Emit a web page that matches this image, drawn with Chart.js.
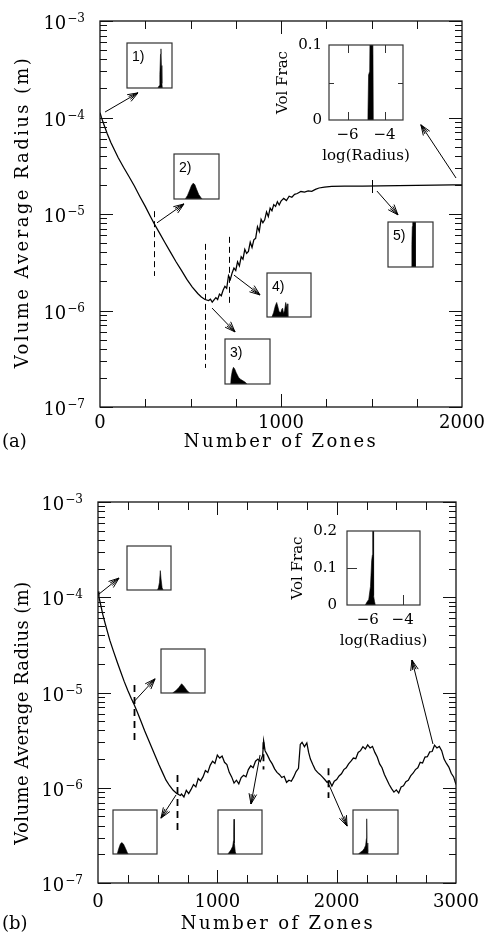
<!DOCTYPE html>
<html>
<head>
<meta charset="utf-8">
<script src="https://cdn.jsdelivr.net/npm/chart.js"></script>
<style>
  html, body { margin: 0; padding: 0; background: #fff; }
  #fig { position: relative; width: 489px; height: 938px; overflow: hidden; }
  #fig canvas { position: absolute; }
</style>
</head>
<body>
<div id="fig">
  <canvas id="mainA" width="489" height="470" style="left:0;top:0"></canvas>
  <canvas id="mainB" width="489" height="468" style="left:0;top:470px"></canvas>
</div>
<script>
// ---- panel (a): volume average radius vs number of zones
const zonesA = [0, 8, 20, 40, 60, 80, 100, 130, 160, 190, 220, 250, 280, 300, 330, 360, 390, 420, 450, 480,
  510, 540, 560, 580, 600, 610, 620, 630, 640, 650, 660, 670, 680, 690, 700, 710, 720, 730, 740, 750,
  760, 770, 780, 790, 800, 810, 820, 830, 840, 850, 860, 870, 880, 890, 900, 910, 920, 930, 940, 950,
  960, 970, 980, 990, 1000, 1015, 1030, 1045, 1060, 1075, 1090, 1110, 1130, 1150, 1170, 1190, 1210, 1240, 1280, 1350,
  1450, 1550, 1650, 1750, 1850, 1950, 2000];
const radiusA = [1.12e-4, 1.0e-4, 8.6e-5, 6.8e-5, 5.5e-5, 4.6e-5, 3.85e-5, 3.05e-5, 2.45e-5, 1.95e-5, 1.52e-5, 1.2e-5, 9.3e-6, 7.9e-6, 6.3e-6, 5.0e-6, 4.0e-6, 3.2e-6, 2.6e-6, 2.1e-6,
  1.75e-6, 1.5e-6, 1.38e-6, 1.3e-6, 1.27e-6, 1.31e-6, 1.22e-6, 1.29e-6, 1.36e-6, 1.3e-6, 1.48e-6, 1.42e-6, 1.62e-6, 1.78e-6, 1.7e-6, 2.3e-6, 2.1e-6, 2.45e-6, 2.75e-6, 2.6e-6,
  3.2e-6, 2.9e-6, 3.6e-6, 3.4e-6, 4.3e-6, 3.9e-6, 4.1e-6, 5.1e-6, 4.5e-6, 5.4e-6, 5.6e-6, 7.4e-6, 6.6e-6, 8.8e-6, 8.1e-6, 8.7e-6, 1.05e-5, 9.4e-6, 1.15e-5, 1.08e-5,
  1.25e-5, 1.2e-5, 1.34e-5, 1.24e-5, 1.36e-5, 1.45e-5, 1.38e-5, 1.53e-5, 1.49e-5, 1.6e-5, 1.63e-5, 1.71e-5, 1.69e-5, 1.74e-5, 1.72e-5, 1.8e-5, 1.86e-5, 1.9e-5, 1.93e-5, 1.94e-5,
  1.95e-5, 1.96e-5, 1.97e-5, 1.98e-5, 1.99e-5, 2.0e-5, 2.0e-5];

// ---- panel (b)
const zonesB = [0, 8, 20, 40, 60, 80, 100, 130, 160, 190, 220, 250, 280, 300, 330, 360, 390, 420, 450, 480,
  510, 540, 570, 600, 630, 660, 690, 700, 720, 740, 760, 780, 800, 820, 840, 860, 880, 900, 920, 940,
  960, 980, 1000, 1020, 1040, 1060, 1080, 1100, 1120, 1140, 1160, 1180, 1200, 1220, 1240, 1260, 1280, 1300, 1320, 1340,
  1360, 1380, 1388, 1400, 1420, 1440, 1460, 1480, 1500, 1520, 1540, 1560, 1580, 1600, 1620, 1640, 1660, 1680, 1695, 1710,
  1730, 1750, 1765, 1780, 1800, 1820, 1840, 1860, 1880, 1900, 1920, 1940, 1960, 1980, 2000, 2020, 2040, 2060, 2080, 2100,
  2120, 2140, 2160, 2180, 2200, 2220, 2240, 2260, 2280, 2300, 2320, 2340, 2360, 2380, 2400, 2420, 2440, 2460, 2480, 2500,
  2520, 2540, 2560, 2580, 2600, 2620, 2640, 2660, 2680, 2700, 2720, 2740, 2760, 2780, 2800, 2820, 2840, 2860, 2880, 2900,
  2920, 2940, 2960, 2980, 3000];
const radiusB = [1.15e-4, 1.0e-4, 8.6e-5, 6.6e-5, 5.3e-5, 4.3e-5, 3.5e-5, 2.7e-5, 2.1e-5, 1.65e-5, 1.3e-5, 1.05e-5, 8.6e-6, 7.6e-6, 6.2e-6, 5.0e-6, 4.0e-6, 3.25e-6, 2.65e-6, 2.15e-6,
  1.75e-6, 1.45e-6, 1.2e-6, 1.05e-6, 9.4e-7, 8.7e-7, 8.3e-7, 8.6e-7, 8.0e-7, 9.4e-7, 8.7e-7, 9.6e-7, 1.08e-6, 1.02e-6, 1.25e-6, 1.18e-6, 1.3e-6, 1.52e-6, 1.45e-6, 1.72e-6,
  1.9e-6, 1.8e-6, 2.2e-6, 2.05e-6, 2.15e-6, 1.85e-6, 1.75e-6, 1.45e-6, 1.3e-6, 1.12e-6, 1.2e-6, 1.1e-6, 1.28e-6, 1.35e-6, 1.3e-6, 1.55e-6, 1.7e-6, 1.62e-6, 1.9e-6, 2.0e-6,
  1.88e-6, 2.2e-6, 3.1e-6, 2.45e-6, 2.2e-6, 1.95e-6, 1.78e-6, 1.58e-6, 1.45e-6, 1.38e-6, 1.28e-6, 1.32e-6, 1.14e-6, 1.2e-6, 1.17e-6, 1.3e-6, 1.48e-6, 1.6e-6, 2.85e-6, 3.0e-6,
  2.7e-6, 2.95e-6, 2.35e-6, 2.0e-6, 1.75e-6, 1.55e-6, 1.45e-6, 1.38e-6, 1.3e-6, 1.22e-6, 1.14e-6, 1.18e-6, 1.04e-6, 1.17e-6, 1.22e-6, 1.33e-6, 1.4e-6, 1.55e-6, 1.62e-6, 1.78e-6,
  1.9e-6, 2.05e-6, 2.02e-6, 2.35e-6, 2.45e-6, 2.7e-6, 2.55e-6, 2.82e-6, 2.62e-6, 2.72e-6, 2.35e-6, 2.1e-6, 1.78e-6, 1.62e-6, 1.38e-6, 1.22e-6, 1.08e-6, 9.8e-7, 9.0e-7, 9.5e-7,
  8.8e-7, 1.02e-6, 1.05e-6, 1.16e-6, 1.2e-6, 1.33e-6, 1.42e-6, 1.55e-6, 1.62e-6, 1.85e-6, 1.82e-6, 2.1e-6, 2.12e-6, 2.38e-6, 2.4e-6, 2.8e-6, 2.62e-6, 2.72e-6, 2.45e-6, 2.0e-6,
  1.8e-6, 1.65e-6, 1.42e-6, 1.3e-6, 1.08e-6];

// axis ticks
const decadeExps = [-3, -4, -5, -6, -7];
const xLabelsA = [0, 1000, 2000];
const xLabelsB = [0, 1000, 2000, 3000];

// dashed markers [zone, top radius, bottom radius]
const dashesA = [[300, 1.07e-5, 2.28e-6], [580, 4.9e-6, 2.54e-7], [713, 5.8e-6, 1.09e-6]];
const dashesB = [[300, 1.2e-5, 2.9e-6], [662, 1.36e-6, 3.4e-7], [1384, 3.0e-6, 1.55e-6], [1930, 1.6e-6, 7.8e-7]];
const marksA = [[1500, 2.25e-5, 1.65e-5]];
// arrows [zone0, radius0, zone1, radius1] (head at the second point)
const arrowsA = [[28, 1.14e-4, 210, 1.8e-4], [315, 8.1e-6, 464, 1.27e-5], [619, 1.06e-6, 746, 6.0e-7],
  [740, 2.33e-6, 884, 1.45e-6], [1530, 1.73e-5, 1646, 9.8e-6], [1967, 2.36e-5, 1773, 8.4e-5]];
const arrowsB = [[8, 1.08e-4, 176, 1.59e-4], [293, 7.8e-6, 478, 1.39e-5], [654, 8.4e-7, 528, 4.8e-7],
  [1358, 2.21e-6, 1282, 6.75e-7], [1936, 1.07e-6, 2087, 3.96e-7], [2807, 2.88e-6, 2631, 2.19e-5]];

// ---- size distributions (log radius, volume fraction)
const histA1Bins = [-4.25, -4.15, -4.08, -4.02, -3.98, -3.94, -3.9, -3.85];
const histA1Frac = [0, 0.005, 0.03, 0.075, 0.087, 0.05, 0.01, 0];
const histA2Bins = [-6.0, -5.8, -5.6, -5.45, -5.3, -5.15, -5.0, -4.8, -4.6, -4.5];
const histA2Frac = [0, 0.008, 0.02, 0.03, 0.035, 0.032, 0.022, 0.01, 0.003, 0];
const histA3Bins = [-6.5, -6.45, -6.35, -6.25, -6.15, -6.0, -5.8, -5.6, -5.4, -5.2, -5.05];
const histA3Frac = [0, 0.015, 0.03, 0.037, 0.034, 0.025, 0.015, 0.01, 0.007, 0.004, 0];
const histA4Bins = [-6.55, -6.4, -6.25, -6.12, -6.0, -5.9, -5.75, -5.65, -5.58, -5.5, -5.4, -5.3, -5.22, -5.17, -5.1];
const histA4Frac = [0, 0.01, 0.025, 0.033, 0.022, 0.012, 0.01, 0.018, 0.02, 0.008, 0.015, 0.033, 0.02, 0.03, 0];
const histA5Bins = [-4.92, -4.88, -4.84, -4.8, -4.6, -4.56];
const histA5Frac = [0, 0.05, 0.09, 0.15, 0.15, 0];
const histABigBins = [-4.9, -4.86, -4.8, -4.77, -4.64, -4.6];
const histABigFrac = [0, 0.06, 0.065, 0.15, 0.15, 0];

const histB1Bins = [-4.3, -4.2, -4.1, -4.02, -3.95, -3.85, -3.75];
const histB1Frac = [0, 0.01, 0.035, 0.088, 0.05, 0.01, 0];
const histB2Bins = [-6.1, -5.8, -5.5, -5.23, -5.0, -4.7, -4.45];
const histB2Frac = [0, 0.01, 0.025, 0.042, 0.03, 0.01, 0];
const histB3Bins = [-6.8, -6.65, -6.5, -6.37, -6.2, -6.0, -5.85, -5.75];
const histB3Frac = [0, 0.025, 0.045, 0.052, 0.045, 0.025, 0.008, 0];
const histB4Bins = [-6.25, -6.1, -5.95, -5.8, -5.72, -5.69, -5.67, -5.64, -5.55, -5.48];
const histB4Frac = [0, 0.01, 0.02, 0.035, 0.06, 0.09, 0.158, 0.05, 0.01, 0];
const histB5Bins = [-6.7, -6.5, -6.3, -6.15, -6.02, -5.95, -5.92, -5.89, -5.82, -5.77];
const histB5Frac = [0, 0.008, 0.015, 0.025, 0.04, 0.07, 0.16, 0.05, 0.01, 0];
const histBBigBins = [-6.15, -6.05, -5.95, -5.85, -5.78, -5.74, -5.72, -5.69, -5.67, -5.62, -5.57];
const histBBigFrac = [0, 0.008, 0.015, 0.05, 0.12, 0.135, 0.3, 0.3, 0.025, 0.01, 0];

const bigAYTicks = [0, 0.1], bigAYLabels = ['0', '0.1'];
const bigBYTicks = [0, 0.1, 0.2], bigBYLabels = ['0', '0.1', '0.2'];
const bigXTicks = [-6, -4], bigXLabels = ['\u22126', '\u22124'];

const SERIF = '"DejaVu Serif", serif';
const fig = document.getElementById('fig');

// set font + letter spacing so that text spans a target length
function fitText(ctx, text, size, target) {
  ctx.letterSpacing = '0px';
  ctx.font = size + 'px ' + SERIF;
  const w = ctx.measureText(text).width;
  if (w > target) ctx.font = (size * target / w).toFixed(1) + 'px ' + SERIF;
  else ctx.letterSpacing = ((target - w) / (text.length - 1)).toFixed(2) + 'px';
}

function drawArrow(ctx, x0, y0, x1, y1) {
  const ang = Math.atan2(y1 - y0, x1 - x0);
  ctx.beginPath();
  ctx.moveTo(x0, y0); ctx.lineTo(x1, y1);
  [[0.36, 11], [-0.36, 11], [0.17, 10], [-0.17, 10]].forEach(([d, L]) => {
    ctx.moveTo(x1, y1);
    ctx.lineTo(x1 - L * Math.cos(ang + d), y1 - L * Math.sin(ang + d));
  });
  ctx.stroke();
}

function mainPlugin(s) {
  return {
    id: 'mainFrame',
    afterDatasetsDraw(chart) {
      const { ctx, chartArea: a, scales: { x, y } } = chart;
      ctx.save();
      ctx.strokeStyle = '#111';
      ctx.fillStyle = '#000';
      ctx.lineWidth = 1.3;
      ctx.strokeRect(a.left, a.top, a.right - a.left, a.bottom - a.top);

      // inward ticks, all four sides
      ctx.lineWidth = 1;
      ctx.beginPath();
      decadeExps.forEach(e => {
        for (let m = 1; m <= 9; m++) {
          const v = m * Math.pow(10, e);
          if (v > 1.0001e-3) break;
          const len = m === 1 ? 13 : 7;
          const py = Math.round(y.getPixelForValue(v)) + 0.5;
          ctx.moveTo(a.left, py); ctx.lineTo(a.left + len, py);
          ctx.moveTo(a.right, py); ctx.lineTo(a.right - len, py);
        }
      });
      for (let v = 250; v < s.xMax; v += 250) {
        const len = v % 1000 === 0 ? 13 : 8;
        const px = Math.round(x.getPixelForValue(v)) + 0.5;
        ctx.moveTo(px, a.bottom); ctx.lineTo(px, a.bottom - len);
        ctx.moveTo(px, a.top); ctx.lineTo(px, a.top + len);
      }
      ctx.stroke();

      // y tick labels 10^n
      const xr = a.left - 15;
      decadeExps.forEach(e => {
        const py = y.getPixelForValue(Math.pow(10, e));
        const ex = '\u2212' + Math.abs(e);
        ctx.font = '12px ' + SERIF;
        const ew = ctx.measureText(ex).width;
        ctx.textAlign = 'left';
        ctx.textBaseline = 'alphabetic';
        ctx.fillText(ex, xr - ew, py + 1);
        ctx.font = '18px ' + SERIF;
        ctx.textAlign = 'right';
        ctx.fillText('10', xr - ew - 1, py + 8);
      });
      // x tick labels
      ctx.font = '18px ' + SERIF;
      ctx.textAlign = 'center';
      s.xLabels.forEach(v => ctx.fillText(String(v), x.getPixelForValue(v), a.bottom + s.labGap));
      // panel letter and axis titles
      ctx.textAlign = 'left';
      ctx.fillText(s.panel, 2, a.bottom + s.titleGap);
      ctx.textAlign = 'center';
      fitText(ctx, 'Number of Zones', 18, 192);
      ctx.fillText('Number of Zones', s.xTitleX, a.bottom + s.titleGap);
      ctx.save();
      ctx.translate(23, s.yTitleY);
      ctx.rotate(-Math.PI / 2);
      fitText(ctx, 'Volume Average Radius (m)', 18, s.yTitleLen);
      ctx.textBaseline = 'middle';
      ctx.fillText('Volume Average Radius (m)', 0, 0);
      ctx.restore();
      ctx.letterSpacing = '0px';

      // dashed markers
      ctx.strokeStyle = '#000';
      ctx.lineWidth = s.dashWidth;
      ctx.setLineDash(s.dash);
      ctx.beginPath();
      s.dashes.forEach(([z, r0, r1]) => {
        const px = Math.round(x.getPixelForValue(z)) + 0.5;
        ctx.moveTo(px, y.getPixelForValue(r0)); ctx.lineTo(px, y.getPixelForValue(r1));
      });
      ctx.stroke();
      ctx.setLineDash([]);
      ctx.lineWidth = 1;
      ctx.beginPath();
      s.marks.forEach(([z, r0, r1]) => {
        const px = Math.round(x.getPixelForValue(z)) + 0.5;
        ctx.moveTo(px, y.getPixelForValue(r0)); ctx.lineTo(px, y.getPixelForValue(r1));
      });
      ctx.stroke();

      // arrows
      ctx.lineWidth = 1;
      s.arrows.forEach(([z0, r0, z1, r1]) => drawArrow(ctx,
        x.getPixelForValue(z0), y.getPixelForValue(r0), x.getPixelForValue(z1), y.getPixelForValue(r1)));
      ctx.restore();
    }
  };
}

function makeMain(id, zones, radius, s) {
  return new Chart(document.getElementById(id), {
    type: 'line',
    data: {
      datasets: [{
        data: zones.map((z, i) => ({ x: z, y: radius[i] })),
        borderColor: '#000', borderWidth: 1.25, pointRadius: 0, tension: 0
      }]
    },
    options: {
      responsive: false, animation: false, events: [],
      layout: { padding: s.pad },
      scales: {
        x: { type: 'linear', min: 0, max: s.xMax, display: false },
        y: { type: 'logarithmic', min: 1e-7, max: 1e-3, display: false }
      },
      plugins: { legend: { display: false }, tooltip: { enabled: false } }
    },
    plugins: [mainPlugin(s)]
  });
}

function insetPlugin(s) {
  return {
    id: 'insetFrame',
    afterDatasetsDraw(chart) {
      const { ctx, chartArea: a, scales: { x, y } } = chart;
      ctx.save();
      ctx.strokeStyle = '#333';
      ctx.fillStyle = '#000';
      ctx.lineWidth = 1.2;
      ctx.strokeRect(a.left, a.top, a.right - a.left, a.bottom - a.top);
      if (s.tag) {
        ctx.font = '14px "Liberation Sans", Arial, sans-serif';
        ctx.textBaseline = 'middle';
        ctx.fillText(s.tag, a.left + 5, a.top + 14);
      }
      if (s.big) {
        const b = s.big;
        ctx.lineWidth = 1;
        ctx.beginPath();
        b.xTicksTB.forEach(v => {
          const px = Math.round(x.getPixelForValue(v)) + 0.5;
          ctx.moveTo(px, a.bottom); ctx.lineTo(px, a.bottom - b.xLen);
          if (b.topTicks) { ctx.moveTo(px, a.top); ctx.lineTo(px, a.top + b.xLen); }
        });
        b.yTicksLR.forEach(v => {
          const py = Math.round(y.getPixelForValue(v)) + 0.5;
          ctx.moveTo(a.left, py); ctx.lineTo(a.left + b.yLen, py);
          if (b.rightTicks) { ctx.moveTo(a.right, py); ctx.lineTo(a.right - b.yLen, py); }
        });
        ctx.stroke();
        ctx.font = '15px ' + SERIF;
        ctx.textBaseline = 'middle';
        ctx.textAlign = 'right';
        b.yTicks.forEach((v, i) => ctx.fillText(b.yLabels[i], a.left - b.yGap, y.getPixelForValue(v)));
        ctx.textAlign = 'center';
        bigXTicks.forEach((v, i) => ctx.fillText(bigXLabels[i], x.getPixelForValue(v), a.bottom + 15));
        ctx.fillText('log(Radius)', (a.left + a.right) / 2, a.bottom + 36);
        ctx.save();
        ctx.translate(a.left - b.titleGap, (a.top + a.bottom) / 2);
        ctx.rotate(-Math.PI / 2);
        ctx.fillText('Vol Frac', 0, 0);
        ctx.restore();
      }
      ctx.restore();
    }
  };
}

function makeInset(s) {
  const [bx, by, bw, bh] = s.box;
  const pad = s.pad || { left: 2, top: 2, right: 2, bottom: 2 };
  const cv = document.createElement('canvas');
  cv.width = bw + pad.left + pad.right;
  cv.height = bh + pad.top + pad.bottom;
  cv.style.left = (bx - pad.left) + 'px';
  cv.style.top = (by - pad.top) + 'px';
  fig.appendChild(cv);
  return new Chart(cv, {
    type: 'line',
    data: {
      datasets: [{
        data: s.bins.map((b, i) => ({ x: b, y: s.frac[i] })),
        fill: 'origin', backgroundColor: '#000', borderColor: '#000',
        borderWidth: 0.6, pointRadius: 0, tension: 0
      }]
    },
    options: {
      responsive: false, animation: false, events: [],
      layout: { padding: pad },
      scales: {
        x: { type: 'linear', min: s.xRange[0], max: s.xRange[1], display: false },
        y: { type: 'linear', min: 0, max: s.yMax, display: false }
      },
      plugins: { legend: { display: false }, tooltip: { enabled: false } }
    },
    plugins: [insetPlugin(s)]
  });
}

makeMain('mainA', zonesA, radiusA, {
  pad: { left: 100, top: 21, right: 27, bottom: 63 }, xMax: 2000, xLabels: xLabelsA,
  labGap: 21, titleGap: 40, panel: '(a)', xTitleX: 281, yTitleY: 212, yTitleLen: 310,
  dashes: dashesA, marks: marksA, arrows: arrowsA, dash: [6, 4], dashWidth: 1
});
makeMain('mainB', zonesB, radiusB, {
  pad: { left: 98, top: 32, right: 33, bottom: 55 }, xMax: 3000, xLabels: xLabelsB,
  labGap: 24, titleGap: 46, panel: '(b)', xTitleX: 278, yTitleY: 243, yTitleLen: 263,
  dashes: dashesB, marks: [], arrows: arrowsB, dash: [7, 5], dashWidth: 1.8
});

const RA = [-7, -3], RB = [-7.2, -3.0];
makeInset({ box: [127, 43, 45, 45], bins: histA1Bins, frac: histA1Frac, xRange: RA, yMax: 0.1, tag: '1)' });
makeInset({ box: [174, 154, 45, 45], bins: histA2Bins, frac: histA2Frac, xRange: RA, yMax: 0.1, tag: '2)' });
makeInset({ box: [225, 339, 45, 45], bins: histA3Bins, frac: histA3Frac, xRange: RA, yMax: 0.1, tag: '3)' });
makeInset({ box: [267, 273, 44, 44], bins: histA4Bins, frac: histA4Frac, xRange: RA, yMax: 0.1, tag: '4)' });
makeInset({ box: [388, 222, 45, 45], bins: histA5Bins, frac: histA5Frac, xRange: RA, yMax: 0.1, tag: '5)' });
makeInset({
  box: [329, 45, 74, 75], pad: { left: 70, top: 10, right: 12, bottom: 48 },
  bins: histABigBins, frac: histABigFrac, xRange: RA, yMax: 0.1,
  big: { xTicksTB: bigXTicks, topTicks: true, xLen: 8, yTicksLR: [0.05], rightTicks: true, yLen: 5,
    yTicks: bigAYTicks, yLabels: bigAYLabels, yGap: 7, titleGap: 46 }
});

makeInset({ box: [127, 546, 44, 44], bins: histB1Bins, frac: histB1Frac, xRange: RB, yMax: 0.2 });
makeInset({ box: [161, 649, 44, 44], bins: histB2Bins, frac: histB2Frac, xRange: RB, yMax: 0.2 });
makeInset({ box: [113, 810, 44, 44], bins: histB3Bins, frac: histB3Frac, xRange: RB, yMax: 0.2 });
makeInset({ box: [218, 810, 44, 44], bins: histB4Bins, frac: histB4Frac, xRange: RB, yMax: 0.2 });
makeInset({ box: [353, 810, 45, 44], bins: histB5Bins, frac: histB5Frac, xRange: RB, yMax: 0.2 });
makeInset({
  box: [347, 531, 73, 74], pad: { left: 72, top: 10, right: 12, bottom: 48 },
  bins: histBBigBins, frac: histBBigFrac, xRange: RB, yMax: 0.2,
  big: { xTicksTB: [-4], topTicks: false, xLen: 10, yTicksLR: [0.1], rightTicks: false, yLen: 10,
    yTicks: bigBYTicks, yLabels: bigBYLabels, yGap: 10, titleGap: 49 }
});
</script>
</body>
</html>
